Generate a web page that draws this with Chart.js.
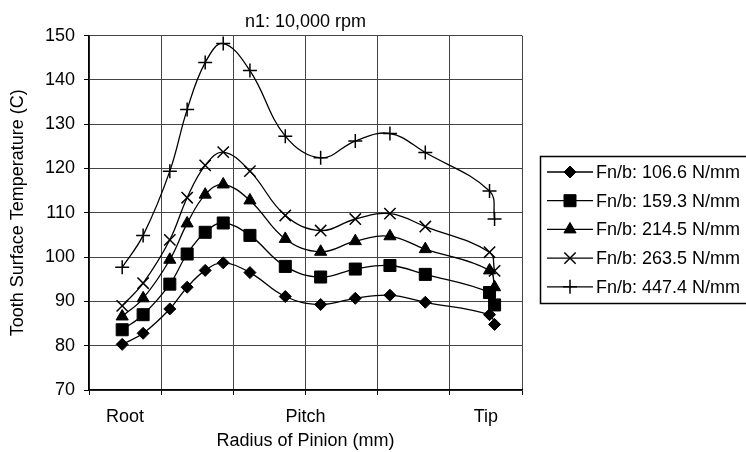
<!DOCTYPE html>
<html>
<head>
<meta charset="utf-8">
<script src="https://cdn.jsdelivr.net/npm/chart.js"></script>
<style>
  html, body { margin: 0; padding: 0; background: #fff; }
  #wrap { width: 746px; height: 452px; }
</style>
</head>
<body>
<div id="wrap"><canvas id="chart" width="746" height="452"></canvas></div>
<script>
// radius positions (grid units, 0..6) and temperatures
const radius = [0.46, 0.75, 1.12, 1.36, 1.61, 1.86, 2.23, 2.72, 3.21, 3.69, 4.17, 4.66, 5.55, 5.62];
const t106 = [80.3, 82.8, 88.3, 93.2, 97.0, 98.7, 96.5, 91.1, 89.3, 90.7, 91.4, 89.8, 87.0, 84.8];
const t159 = [83.6, 87.0, 93.9, 100.7, 105.6, 107.7, 104.9, 97.9, 95.5, 97.3, 98.1, 96.1, 92.0, 89.2];
const t214 = [86.6, 90.7, 99.4, 107.6, 114.1, 116.4, 112.8, 104.1, 101.2, 103.6, 104.7, 101.8, 97.0, 93.2];
const t263 = [89.0, 94.1, 103.9, 113.4, 120.7, 123.7, 119.4, 109.4, 106.0, 108.6, 109.8, 106.9, 101.1, 96.9];
const t447 = [97.7, 104.9, 119.4, 133.3, 143.9, 148.2, 142.1, 127.3, 122.4, 126.2, 127.9, 123.6, 114.9, 108.6];

const seriesNames = ['Fn/b: 106.6 N/mm', 'Fn/b: 159.3 N/mm', 'Fn/b: 214.5 N/mm', 'Fn/b: 263.5 N/mm', 'Fn/b: 447.4 N/mm'];
const seriesMarks = ['rectRot', 'rect', 'triangle', 'crossRot', 'cross'];
const markSizes = [6, 8.5, 7, 8, 7];

const gridStops = [0, 1, 2, 3, 4, 5, 6];
const tickPos = [0.5, 3, 5.5];
const tickNames = ['Root', 'Pitch', 'Tip'];

const FONT = '"Liberation Sans", Arial, Helvetica, sans-serif';

const pts = vals => radius.map((x, i) => ({ x: x, y: vals[i] }));
const isGrid = v => gridStops.includes(v);

const datasets = [t106, t159, t214, t263, t447].map((vals, i) => ({
  label: seriesNames[i],
  data: pts(vals),
  showLine: true,
  borderColor: '#000',
  borderWidth: 1.3,
  backgroundColor: '#000',
  pointStyle: seriesMarks[i],
  pointRadius: markSizes[i],
  pointBorderWidth: i >= 3 ? 1.5 : 1,
  pointBackgroundColor: '#000',
  pointBorderColor: '#000',
  tension: 0.4
}));

// boxed legend at right, line sample with marker in the middle
const legendBox = {
  id: 'legendBox',
  afterDraw(chart) {
    const ctx = chart.ctx;
    ctx.save();
    ctx.strokeStyle = '#000';
    ctx.lineWidth = 1.5;
    ctx.strokeRect(540.5, 156.5, 230, 147);
    ctx.font = '18px ' + FONT;
    ctx.textBaseline = 'middle';
    ctx.fillStyle = '#000';
    chart.data.datasets.forEach((ds, i) => {
      const y = 172 + i * 28.7;
      ctx.beginPath();
      ctx.moveTo(547, y);
      ctx.lineTo(593, y);
      ctx.lineWidth = 1.3;
      ctx.stroke();
      ctx.lineWidth = ds.pointBorderWidth;
      Chart.helpers.drawPoint(ctx, {
        pointStyle: ds.pointStyle,
        radius: ds.pointRadius,
        borderWidth: ds.pointBorderWidth,
        rotation: 0
      }, 570, y);
      ctx.fillText(ds.label, 596, y + 1);
    });
    ctx.restore();
  }
};

new Chart(document.getElementById('chart'), {
  type: 'scatter',
  data: { datasets: datasets },
  options: {
    responsive: false,
    animation: false,
    layout: { padding: { left: 0, right: 224, top: 0, bottom: 0 } },
    plugins: {
      legend: { display: false },
      tooltip: { enabled: false },
      title: {
        display: true,
        text: 'n1: 10,000 rpm',
        color: '#000',
        fullSize: false,
        font: { family: FONT, size: 18, weight: 'normal' },
        padding: { top: 11, bottom: 3 }
      }
    },
    scales: {
      x: {
        type: 'linear',
        min: 0,
        max: 6,
        afterBuildTicks: s => {
          s.ticks = gridStops.concat(tickPos.filter(v => !isGrid(v)))
            .sort((a, b) => a - b).map(v => ({ value: v }));
        },
        afterFit: s => { s.height = 62; },
        grid: {
          color: c => isGrid(c.tick.value) ? '#444' : 'rgba(0,0,0,0)',
          tickColor: c => isGrid(c.tick.value) ? '#000' : 'rgba(0,0,0,0)',
          lineWidth: 1,
          tickLength: 5
        },
        border: { display: true, color: '#000', width: 1.5 },
        ticks: {
          autoSkip: false,
          maxRotation: 0,
          color: '#000',
          padding: 11,
          font: { family: FONT, size: 18 },
          callback: v => {
            const k = tickPos.indexOf(v);
            return k >= 0 ? tickNames[k] : '';
          }
        },
        title: {
          display: true,
          text: 'Radius of Pinion (mm)',
          color: '#000',
          font: { family: FONT, size: 18 },
          padding: { top: 0, bottom: 0 }
        }
      },
      y: {
        min: 70,
        max: 150,
        afterFit: s => { s.width = 89; },
        grid: { color: '#444', lineWidth: 1, tickLength: 5, tickColor: '#000' },
        border: { display: true, color: '#000', width: 1.5 },
        ticks: {
          stepSize: 10,
          color: '#000',
          padding: 9,
          font: { family: FONT, size: 18 }
        },
        title: {
          display: true,
          text: 'Tooth Surface Temperature (C)',
          color: '#000',
          font: { family: FONT, size: 18 },
          padding: { top: 7, bottom: 0 }
        }
      }
    }
  },
  plugins: [legendBox]
});
</script>
</body>
</html>
